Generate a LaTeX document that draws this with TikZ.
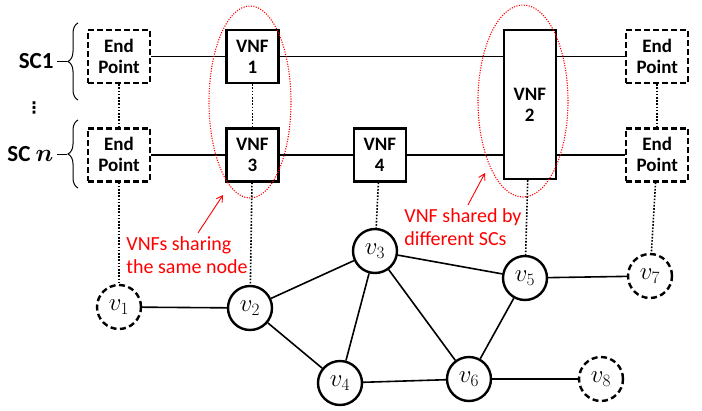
\documentclass[tikz,border=0pt]{standalone}
\usepackage{amsmath, bm}
\usepackage{fontspec}
\setmainfont{Carlito}
\newfontfamily\dotsfont{DejaVu Sans}
\usetikzlibrary{arrows.meta, shapes.geometric, positioning, decorations.pathreplacing}

\begin{document}
\begin{tikzpicture}[
    x=1pt, y=-1pt,
    vnf/.style={draw, rectangle, line width=2.4pt, minimum width=52pt, minimum height=53pt, align=center, font=\fontsize{19}{21}\selectfont\bfseries},
    endpt/.style={vnf, dash pattern=on 6pt off 3pt, minimum width=62pt},
    snode/.style={draw, circle, line width=2.4pt, minimum size=44pt, inner sep=0pt, font=\fontsize{25}{28}\selectfont},
    enode/.style={snode, dash pattern=on 6pt off 3.5pt},
    link/.style={line width=1.6pt},
    maplink/.style={line width=1.6pt, dash pattern=on 1.6pt off 1.6pt},
    shareoval/.style={draw=red, ellipse, line width=1.1pt, dash pattern=on 1.1pt off 1.4pt},
    note/.style={red, align=left, font=\fontsize{20}{23}\selectfont},
    arr/.style={-{Straight Barb[length=6pt, width=7pt]}, red, line width=0.9pt},
    sclabel/.style={font=\fontsize{23}{26}\selectfont\bfseries},
    sbrace/.style={decorate, decoration={brace, amplitude=10pt}, line width=1pt}
  ]
  \useasboundingbox (0,0) rectangle (702,410);

  % chain SC1
  \node[endpt] (ep1) at (119,56.5) {End\\Point};
  \node[vnf, right=74pt of ep1] (vnf1) {VNF\\1};
  \node[vnf, minimum height=149pt, below right=0pt and 223pt of vnf1.north east] (vnf2) {VNF\\2};
  \node[endpt, below right=0pt and 68pt of vnf2.north east] (ep2) {End\\Point};

  % chain SC n
  \node[endpt, below=43pt of ep1] (ep3) {End\\Point};
  \node[vnf, below=43pt of vnf1] (vnf3) {VNF\\3};
  \node[vnf, right=73pt of vnf3] (vnf4) {VNF\\4};
  \node[endpt, below=43pt of ep2] (ep4) {End\\Point};

  % substrate network
  \node[enode] (v1) at (119,307) {$v_1$};
  \node[snode] (v2) at (250,308) {$v_2$};
  \node[snode] (v3) at (375,251) {$v_3$};
  \node[snode] (v4) at (340,383) {$v_4$};
  \node[snode] (v5) at (525,278) {$v_5$};
  \node[snode] (v6) at (469,379) {$v_6$};
  \node[enode] (v7) at (650,276) {$v_7$};
  \node[enode] (v8) at (601,379) {$v_8$};

  \draw[link] (ep1) -- (vnf1);
  \draw[link] (vnf1) -- (vnf1 -| vnf2.west);
  \draw[link] (ep2 -| vnf2.east) -- (ep2);
  \draw[link] (ep3) -- (vnf3);
  \draw[link] (vnf3) -- (vnf4);
  \draw[link] (vnf4) -- (vnf4 -| vnf2.west);
  \draw[link] (ep4 -| vnf2.east) -- (ep4);

  \draw[link] (v1) -- (v2);
  \draw[link] (v2) -- (v3);
  \draw[link] (v2) -- (v4);
  \draw[link] (v3) -- (v4);
  \draw[link] (v3) -- (v5);
  \draw[link] (v3) -- (v6);
  \draw[link] (v4) -- (v6);
  \draw[link] (v5) -- (v6);
  \draw[link] (v5) -- (v7);
  \draw[link] (v6) -- (v8);

  % mapping onto nodes
  \draw[maplink] (ep1) -- (ep3);
  \draw[maplink] (ep3) -- (v1);
  \draw[maplink] (vnf1) -- (vnf3);
  \draw[maplink] (vnf3) -- (v2);
  \draw[maplink] (vnf4) -- (v3);
  \draw[maplink] (vnf2) -- (v5);
  \draw[maplink] (ep2) -- (ep4);
  \draw[maplink] (ep4) -- (v7);

  % shared VNFs
  \node[shareoval, minimum width=82pt, minimum height=192pt] (oval1) at (250,102) {};
  \node[shareoval, minimum width=90pt, minimum height=192pt] (oval2) at (523,101) {};
  \coordinate (hint1) at (223,195);
  \coordinate (hint2) at (485,173);
  \node[note] (note1) at (187,255) {VNFs sharing\\the same node};
  \node[note] (note2) at (463,227) {VNF shared by\\different SCs};
  \draw[arr] ([xshift=11pt]note1.north) -- (hint1);
  \draw[arr] ([xshift=5pt]note2.north) -- (hint2);

  % chain labels
  \draw[sbrace] (78,100) -- (78,23);
  \draw[sbrace] (78,188) -- (78,120);
  \coordinate (tip1) at (67,61.5);
  \coordinate (tip2) at (67,154);
  \node[sclabel, left=10pt of tip1] (sc1) {SC1};
  \node[sclabel, left=10pt of tip2] (scn) {SC $\bm{n}$};
  \draw[line width=1pt] (sc1) -- (tip1);
  \draw[line width=1pt] (scn) -- (tip2);
  \node[font=\dotsfont\fontsize{16}{18}\selectfont\bfseries] (more) at (34,108) {⋮};
\end{tikzpicture}
\end{document}
